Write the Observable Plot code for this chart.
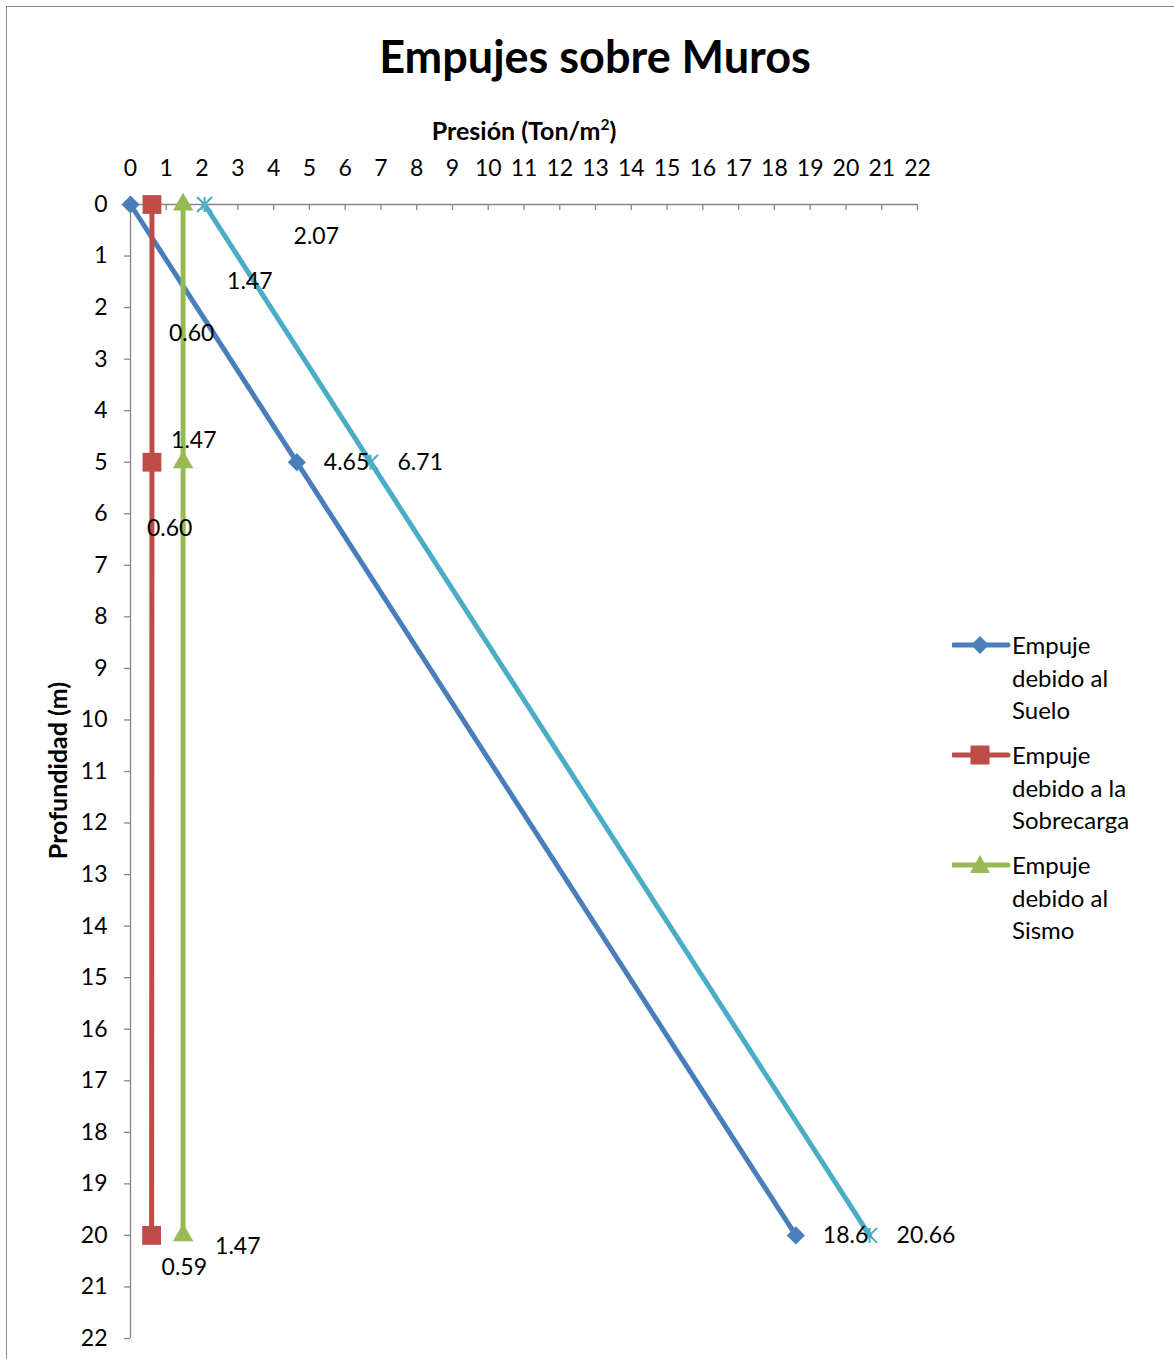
<!DOCTYPE html>
<html>
<head>
<meta charset="utf-8">
<script src="https://cdn.jsdelivr.net/npm/d3@7"></script>
<script src="https://cdn.jsdelivr.net/npm/@observablehq/plot@0.6"></script>
<style>
  html, body { margin: 0; padding: 0; background: #fff; }
  body { font-family: Lato, "Noto Sans", sans-serif; color: #000; }
  #wrap { position: relative; width: 1174px; height: 1359px; overflow: hidden; }
  #frame { position: absolute; left: 6px; top: 6px; width: 1300px; height: 1500px;
           border-top: 1.5px solid #8c8c8c; border-left: 1.5px solid #8c8c8c; }
  #chart { position: absolute; left: 0; top: 0; }
  #title { position: absolute; left: 0; width: 1190px; top: 34px; text-align: center;
           font-weight: bold; font-size: 45px; line-height: 45px; white-space: nowrap; }
  #xlabel { position: absolute; left: 324px; width: 400px; top: 118px; text-align: center;
            font-weight: bold; font-size: 25px; line-height: 25px; white-space: nowrap; }
  #xlabel sup { font-size: 0.62em; line-height: 0; position: relative; top: -0.05em; }
  #ylabel { position: absolute; left: -93px; width: 300px; top: 758px; text-align: center;
            font-weight: bold; font-size: 25px; line-height: 25px; white-space: nowrap;
            transform: rotate(-90deg); transform-origin: 150px 12.5px; }
  .leg { position: absolute; left: 952px; }
  .leg svg { position: absolute; left: 0; top: 0; }
  .leg div { position: absolute; left: 60px; top: 0; width: 140px; font-size: 24px; line-height: 32.5px; }
</style>
</head>
<body>
<div id="wrap">
  <div id="frame"></div>
  <div id="chart"></div>
  <div id="title">Empujes sobre Muros</div>
  <div id="xlabel">Presión (Ton/m<sup>2</sup>)</div>
  <div id="ylabel">Profundidad (m)</div>
  <div id="legend"></div>
</div>
<script>
// ---- Data ----
const depth = [0, 5, 20];
const suelo = [0, 4.65, 18.6];
const sobrecarga = [0.60, 0.60, 0.59];
const sismo = [1.47, 1.47, 1.47];
const total = [2.07, 6.71, 20.66];
const sueloLabels = ["", "4.65", "18.6"];
const sobrecargaLabels = ["0.60", "0.60", "0.59"];
const sismoLabels = ["1.47", "1.47", "1.47"];
const totalLabels = ["2.07", "6.71", "20.66"];
const xTicks = [0, 1, 2, 3, 4, 5, 6, 7, 8, 9, 10, 11, 12, 13, 14, 15, 16, 17, 18, 19, 20, 21, 22];
const yTicks = [0, 1, 2, 3, 4, 5, 6, 7, 8, 9, 10, 11, 12, 13, 14, 15, 16, 17, 18, 19, 20, 21, 22];
const legendNames = ["Empuje debido al Suelo", "Empuje debido a la Sobrecarga", "Empuje debido al Sismo"];

// ---- Styles ----
const starSymbol = {
  draw(context, size) {
    const r = Math.sqrt(size / Math.PI);
    context.moveTo(-r, -r); context.lineTo(r, r);
    context.moveTo(r, -r); context.lineTo(-r, r);
    context.moveTo(0, -r); context.lineTo(0, r);
  }
};
const series = [
  {values: suelo, labels: sueloLabels, color: "#4A7EBB", symbol: "diamond2", r: 8.2, fill: true,
   offsets: [[0, 0], [27, 0], [27, 0]]},
  {values: sobrecarga, labels: sobrecargaLabels, color: "#BE4B48", symbol: "square", r: 10.6, fill: true,
   offsets: [[17, 129], [-5, 66], [10, 32]]},
  {values: sismo, labels: sismoLabels, color: "#98B954", symbol: "triangle", r: 7.6, fill: true,
   offsets: [[44, 77], [-12, -22], [32, 11]]},
  {values: total, labels: totalLabels, color: "#4BACC6", symbol: starSymbol, r: 7.5, fill: false,
   offsets: [[89, 32], [27, 0], [27, 0]]}
];
const axisGray = "#868686";

const marks = [];
// axes
marks.push(Plot.ruleY([0], {stroke: axisGray, strokeWidth: 1.3}));
marks.push(Plot.ruleX([0], {stroke: axisGray, strokeWidth: 1.3}));
marks.push(Plot.ruleX(xTicks, {x: d => d, y1: 0, y2: 0, insetBottom: -6, stroke: axisGray, strokeWidth: 1.3}));
marks.push(Plot.axisX(xTicks, {anchor: "top", tickSize: 0, tickPadding: 29, fontSize: 23, fill: "#000",
  tickFormat: d => String(d), label: null}));
marks.push(Plot.axisY(yTicks, {anchor: "left", tickSize: 6, tickPadding: 17, fontSize: 23, fill: "#000",
  stroke: axisGray, strokeWidth: 1.3, tickFormat: d => String(d), label: null}));

// series lines and markers
for (const s of series) {
  const rows = depth.map((d, i) => ({x: s.values[i], y: d}));
  marks.push(Plot.line(rows, {x: "x", y: "y", stroke: s.color, strokeWidth: 5}));
  if (s.fill) {
    marks.push(Plot.dot(rows, {x: "x", y: "y", symbol: s.symbol, r: s.r, fill: s.color, stroke: "none"}));
  } else {
    marks.push(Plot.dot(rows, {x: "x", y: "y", symbol: s.symbol, r: s.r, fill: "none", stroke: s.color, strokeWidth: 2}));
  }
}
// data labels
for (const s of series) {
  depth.forEach((d, i) => {
    if (!s.labels[i]) return;
    marks.push(Plot.text([{x: s.values[i], y: d, t: s.labels[i]}], {
      x: "x", y: "y", text: "t", dx: s.offsets[i][0], dy: s.offsets[i][1],
      textAnchor: "start", lineAnchor: "middle", fontSize: 23, fill: "#000"
    }));
  });
}

const chart = Plot.plot({
  width: 1174, height: 1359,
  marginLeft: 130, marginRight: 257, marginTop: 204, marginBottom: 21,
  x: {domain: [0, 22]},
  y: {domain: [0, 22], reverse: true},
  style: {fontFamily: "Lato, 'Noto Sans', sans-serif", fontSize: "23px", background: "transparent", overflow: "visible"},
  marks
});
document.getElementById("chart").appendChild(chart);

// ---- Legend ----
const legTops = [629, 739, 849];
const legMarkers = {
  diamond2: '<path d="M28,9 L37,18 L28,27 L19,18 Z"/>',
  square: '<rect x="18.5" y="8.5" width="19" height="19"/>',
  triangle: '<path d="M28,8 L38,26 L18,26 Z"/>'
};
const legend = document.getElementById("legend");
legendNames.forEach((name, i) => {
  const s = series[i];
  const el = document.createElement("div");
  el.className = "leg";
  el.style.top = (legTops[i] - 2) + "px";
  el.innerHTML = `<svg width="60" height="36" viewBox="0 0 60 36">
      <line x1="1" y1="18" x2="56" y2="18" stroke="${s.color}" stroke-width="5" stroke-linecap="round"/>
      <g fill="${s.color}">${legMarkers[s.symbol]}</g></svg>
      <div style="top:2px">${name}</div>`;
  legend.appendChild(el);
});
</script>
</body>
</html>
